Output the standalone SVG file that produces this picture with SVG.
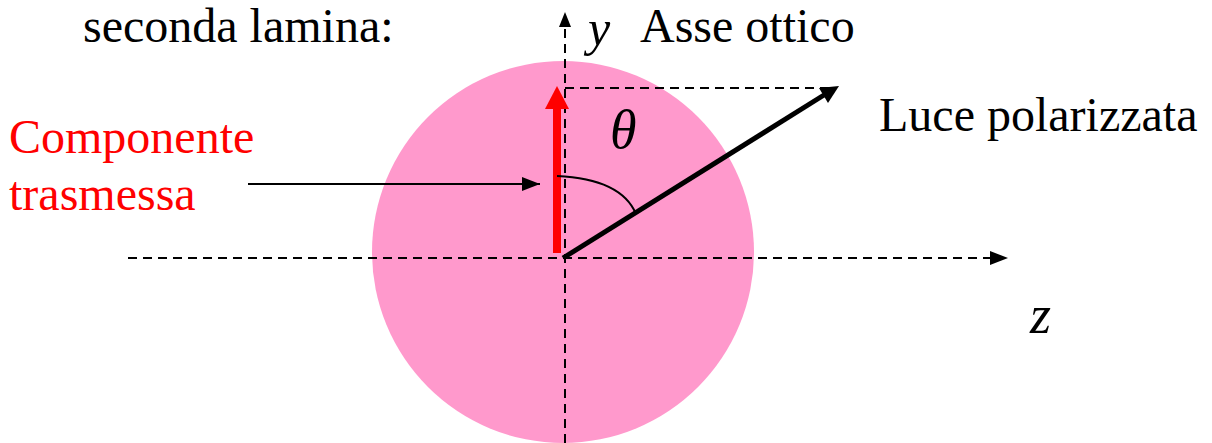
<svg xmlns="http://www.w3.org/2000/svg" width="1212" height="443" viewBox="0 0 1212 443">
<style>
.t{font-family:"Liberation Serif","Times New Roman",serif;font-size:48px;fill:#000}
.i{font-style:italic;font-size:54px}
.red{fill:#FF0000}
.dash{stroke:#000;stroke-width:2;stroke-dasharray:9,6;fill:none}
</style>
<defs>
<marker id="ahs" markerWidth="18" markerHeight="14" refX="18" refY="7" orient="auto" markerUnits="userSpaceOnUse">
<path d="M0,0 L18,7 L0,14 Z" fill="#000"/>
</marker>
</defs>
<g id="disk"><circle cx="563" cy="252" r="191" fill="#FF99CC"/></g>
<g id="connectors">
<line class="dash" x1="128" y1="258" x2="1000" y2="258"/>
<path d="M1008,258 L990,251 L990,265 Z" fill="#000"/>
<line class="dash" x1="565" y1="443" x2="565" y2="22"/>
<path d="M565,12 L559,27 L571,27 Z" fill="#000"/>
<line class="dash" x1="565" y1="88" x2="830" y2="88"/>
<line x1="563" y1="258" x2="824" y2="95" stroke="#000" stroke-width="5"/>
<path d="M839,86 L819,88 L828,103 Z" fill="#000"/>
<line x1="557" y1="253" x2="557" y2="105" stroke="#FF0000" stroke-width="8"/>
<path d="M557,86 L545,109 L569,109 Z" fill="#FF0000"/>
<path d="M557,176 C600,178 626,190 636,214" stroke="#000" stroke-width="2" fill="none"/>
<line x1="248" y1="184" x2="540" y2="184" stroke="#000" stroke-width="2" marker-end="url(#ahs)"/>
</g>
<g id="labels">
<text class="t" x="83" y="42">seconda lamina:</text>
<text class="t i" x="588" y="45" style="font-size:50px">y</text>
<text class="t" x="640" y="42">Asse ottico</text>
<text class="t i" x="610" y="148">θ</text>
<text class="t" x="879" y="131">Luce polarizzata</text>
<text class="t i" x="1030" y="333">z</text>
<text class="t red" x="9" y="153">Componente</text>
<text class="t red" x="9" y="210">trasmessa</text>
</g>
</svg>
